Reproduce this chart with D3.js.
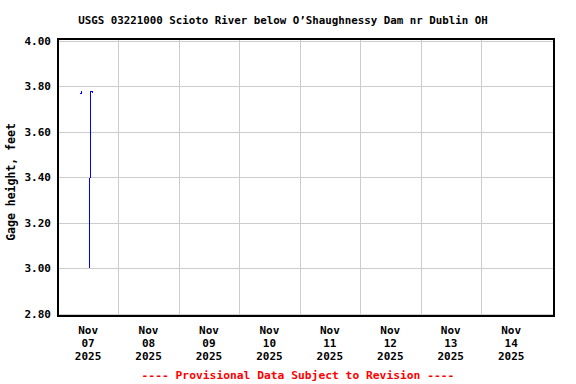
<!DOCTYPE html>
<html><head><meta charset="utf-8">
<script src="https://cdn.jsdelivr.net/npm/d3@7"></script>
<style>body{margin:0;background:#fff}svg{display:block}text{font-family:"DejaVu Sans Mono",monospace;font-weight:bold;font-size:11px}</style>
</head><body>
<script>
const title = "USGS 03221000 Scioto River below O\u2019Shaughnessy Dam nr Dublin OH";
const yLabel = "Gage height, feet";
const footer = "---- Provisional Data Subject to Revision ----";
const yTicks = [2.8, 3.0, 3.2, 3.4, 3.6, 3.8, 4.0];
const dayLabels = ["2025-11-07","2025-11-08","2025-11-09","2025-11-10","2025-11-11","2025-11-12","2025-11-13","2025-11-14"];
const times = ["2025-11-07T08:45","2025-11-07T09:00","2025-11-07T09:15","2025-11-07T09:30","2025-11-07T09:45",null,
  "2025-11-07T12:30","2025-11-07T12:45","2025-11-07T13:00","2025-11-07T13:15","2025-11-07T13:30","2025-11-07T13:45","2025-11-07T14:00"];
const values = [3.77,3.77,3.77,3.78,3.78,null,3.00,3.39,3.78,3.78,3.78,3.78,3.77];

const W=576,H=384;
const svg=d3.select("body").append("svg").attr("width",W).attr("height",H);
const pt=d3.utcParse("%Y-%m-%dT%H:%M"), pd=d3.utcParse("%Y-%m-%d");
const x=d3.scaleUtc().domain([pt("2025-11-07T00:00"),pt("2025-11-15T05:00")]).range([57.9,554]);
const y=d3.scaleLinear().domain([2.79,4.0066]).range([316,39.5]);
const L=58,R=554,T=40,B=316;

// grid
svg.append("g").selectAll("line").data(yTicks).join("line")
  .attr("x1",L).attr("x2",R).attr("y1",d=>Math.round(y(d))+0.5).attr("y2",d=>Math.round(y(d))+0.5)
  .attr("stroke","#cccccc").attr("stroke-width",1).attr("shape-rendering","crispEdges");
const gridDays=dayLabels.slice(1).map(pd);
svg.append("g").selectAll("line").data(gridDays).join("line")
  .attr("y1",T).attr("y2",B).attr("x1",d=>Math.round(x(d))+0.5).attr("x2",d=>Math.round(x(d))+0.5)
  .attr("stroke","#cccccc").attr("stroke-width",1).attr("shape-rendering","crispEdges");

// data
const data=times.map((t,i)=>({t:t?pt(t):null,v:values[i]}));
svg.append("path").datum(data)
  .attr("d",d3.line().defined(d=>d.t!==null&&d.v!==null).x(d=>x(d.t)).y(d=>y(d.v)))
  .attr("fill","none").attr("stroke","#0000ff").attr("stroke-width",1).attr("shape-rendering","crispEdges");

// frame
svg.append("rect").attr("x",L).attr("y",T-1).attr("width",R-L).attr("height",B-T+1)
  .attr("fill","none").attr("stroke","#000").attr("stroke-width",2).attr("shape-rendering","crispEdges");

// y tick labels
svg.append("g").selectAll("text").data(yTicks).join("text")
  .attr("x",51).attr("y",d=>y(d)+4).attr("text-anchor","end").text(d=>d3.format(".2f")(d));

// x labels
const fm=d3.utcFormat("%b"), fd=d3.utcFormat("%d"), fy=d3.utcFormat("%Y");
const xl=svg.append("g").selectAll("g").data(dayLabels.map(pd)).join("g");
xl.append("text").attr("x",d=>x(d3.utcHour.offset(d,12))).attr("y",334).attr("text-anchor","middle").text(fm);
xl.append("text").attr("x",d=>x(d3.utcHour.offset(d,12))).attr("y",346.7).attr("text-anchor","middle").text(fd);
xl.append("text").attr("x",d=>x(d3.utcHour.offset(d,12))).attr("y",360).attr("text-anchor","middle").text(fy);

svg.append("text").attr("x",283).attr("y",24).attr("text-anchor","middle").style("font-size","10.8px").text(title);
svg.append("text").attr("transform","translate(15,182) rotate(-90)").attr("text-anchor","middle").style("font-size","11.5px").text(yLabel);
svg.append("text").attr("x",298).attr("y",379).attr("text-anchor","middle").attr("fill","#ff0000").style("font-size","11.3px").text(footer);
</script>
</body></html>
